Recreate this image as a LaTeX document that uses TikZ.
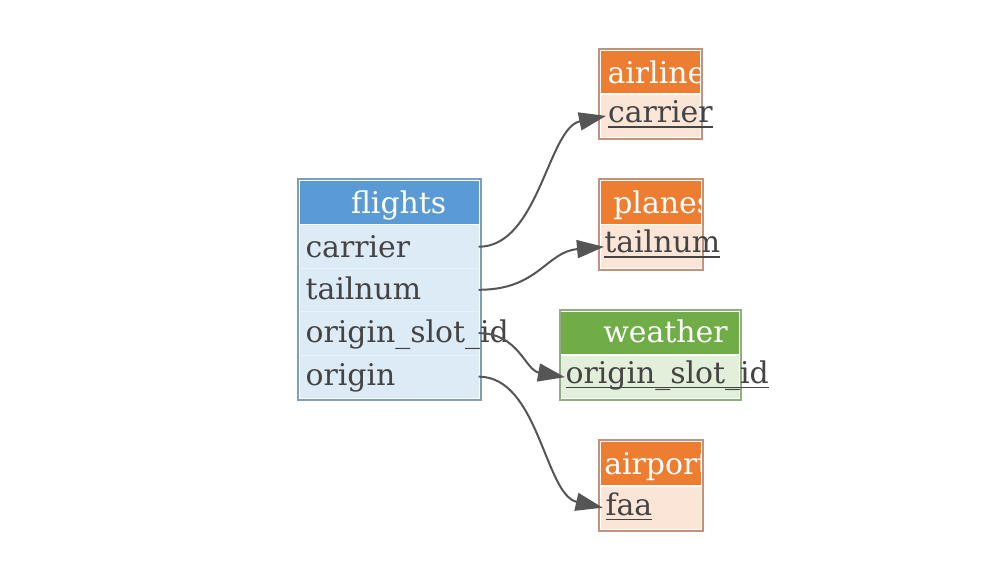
\documentclass[tikz,border=0pt]{standalone}
\usepackage{fontspec}
\setmainfont{DejaVu Serif}
\usetikzlibrary{arrows.meta,fit}
\definecolor{bhead}{HTML}{5B9BD5}
\definecolor{brow}{HTML}{DDEBF7}
\definecolor{bsep}{HTML}{EBF3FB}
\definecolor{bbord}{HTML}{7F9DBD}
\definecolor{ohead}{HTML}{ED7D31}
\definecolor{orow}{HTML}{FBE5D6}
\definecolor{obord}{HTML}{C4917A}
\definecolor{ghead}{HTML}{70AD47}
\definecolor{grow}{HTML}{E2EFDA}
\definecolor{gbord}{HTML}{8FAE82}
\definecolor{txt}{HTML}{444444}
\definecolor{arr}{HTML}{555555}
\tikzset{
  tbord/.style={line width=1pt, fill=white},
  cellbox/.style={inner sep=0pt, outer sep=0pt, draw=none},
  rowsep/.style={draw=bsep, line width=0.5pt},
  fieldtext/.style={inner sep=0pt, outer sep=0pt, text=txt, font=\fontsize{14.95pt}{17pt}\selectfont},
  titletext/.style={inner sep=0pt, outer sep=0pt, text=white, font=\fontsize{14.95pt}{17pt}\selectfont},
  ul/.style={draw=txt, line width=0.75pt},
  fk/.style={draw=arr, line width=1pt, -{Triangle[length=13.5pt,width=9pt]}},
}
\begin{document}
\begin{tikzpicture}[x=0.5pt,y=-0.5pt]
\path[use as bounding box, fill=white] (0,0) rectangle (1000,580);

% ---------- flights ----------
\draw[tbord, draw=bbord] (298.3,179.3) rectangle (480.5,400.3);
\node[cellbox, fill=bhead, fit={(300.3,181) (478.7,224.3)}] (fl-head) {};
\node[cellbox, fill=brow, fit={(300.3,225.2) (478.7,268.3)}] (fl-carrier) {};
\node[cellbox, fill=brow, fit={(300.3,268.3) (478.7,311.3)}] (fl-tailnum) {};
\node[cellbox, fill=brow, fit={(300.3,311.3) (478.7,355)}] (fl-slot) {};
\node[cellbox, fill=brow, fit={(300.3,355) (478.7,398.3)}] (fl-origin) {};
\draw[rowsep] (fl-carrier.south west) -- (fl-carrier.south east);
\draw[rowsep] (fl-tailnum.south west) -- (fl-tailnum.south east);
\draw[rowsep] (fl-slot.south west) -- (fl-slot.south east);
\node[titletext, anchor=base west] (fl-title) at (351,213) {flights};
\node[fieldtext, anchor=base west] (fl-carrier-t) at (305.5,257.3) {carrier};
\node[fieldtext, anchor=base west] (fl-tailnum-t) at (305.5,299.8) {tailnum};
\node[fieldtext, anchor=base west] (fl-slot-t) at (305.5,342.5) {origin\_slot\_id};
\node[fieldtext, anchor=base west] (fl-origin-t) at (305.5,385.3) {origin};

% ---------- airlines ----------
\draw[tbord, draw=obord] (599.2,48.8) rectangle (701.8,139);
\node[cellbox, fill=ohead, fit={(601,51) (699.8,93.3)}] (al-head) {};
\node[cellbox, fill=orow, fit={(601,95) (699.8,136.8)}] (al-carrier) {};
\begin{scope}
\clip (601,51) rectangle (699.8,93.3);
\node[titletext, anchor=base west] (al-title) at (607.5,83.3) {airlines};
\end{scope}
\node[fieldtext, anchor=base west] (al-carrier-t) at (608,122.8) {carrier};
\draw[ul] ([yshift=-2.2pt]al-carrier-t.base west) -- ([yshift=-2.2pt]al-carrier-t.base east);

% ---------- planes ----------
\draw[tbord, draw=obord] (599.2,179.2) rectangle (702.5,270.2);
\node[cellbox, fill=ohead, fit={(601,181) (701,223.5)}] (pl-head) {};
\node[cellbox, fill=orow, fit={(601,225.3) (701,268.3)}] (pl-tailnum) {};
\begin{scope}
\clip (601,181) rectangle (701,223.5);
\node[titletext, anchor=base west] (pl-title) at (613.3,213.3) {planes};
\end{scope}
\node[fieldtext, anchor=base west] (pl-tailnum-t) at (604.3,252.5) {tailnum};
\draw[ul] ([yshift=-2.2pt]pl-tailnum-t.base west) -- ([yshift=-2.2pt]pl-tailnum-t.base east);

% ---------- weather ----------
\draw[tbord, draw=gbord] (559.5,309.5) rectangle (741.2,400.2);
\node[cellbox, fill=ghead, fit={(561,311.7) (739.3,354.3)}] (we-head) {};
\node[cellbox, fill=grow, fit={(561,356) (739.3,398.3)}] (we-slot) {};
\node[titletext, anchor=base west] (we-title) at (603.3,342.7) {weather};
\node[fieldtext, anchor=base west] (we-slot-t) at (565.5,383.3) {origin\_slot\_id};
\draw[ul] ([yshift=-2.2pt]we-slot-t.base west) -- ([yshift=-2.2pt]we-slot-t.base east);

% ---------- airports ----------
\draw[tbord, draw=obord] (598.5,440.3) rectangle (702.8,530.5);
\node[cellbox, fill=ohead, fit={(600.7,442.3) (700.7,485)}] (ap-head) {};
\node[cellbox, fill=orow, fit={(600.7,486.7) (700.7,528.7)}] (ap-faa) {};
\begin{scope}
\clip (600.7,442.3) rectangle (700.7,485);
\node[titletext, anchor=base west] (ap-title) at (604.3,474) {airports};
\end{scope}
\node[fieldtext, anchor=base west] (ap-faa-t) at (605.5,515) {faa};
\draw[ul] ([yshift=-2.2pt]ap-faa-t.base west) -- ([yshift=-2.2pt]ap-faa-t.base east);

% ---------- connectors ----------
\draw[fk] (fl-carrier.east) .. controls +(60,0) and +(-58,12) .. ([xshift=2.5pt]al-carrier.west);
\draw[fk] (fl-tailnum.east) .. controls +(60,0) and +(-58,5) .. ([xshift=1.5pt]pl-tailnum.west);
\draw[fk] (fl-slot.east) .. controls +(40,0) and +(-40,-7) .. ([xshift=2pt]we-slot.west);
\draw[fk] (fl-origin.east) .. controls +(60,0) and +(-58,-13) .. ([xshift=1pt]ap-faa.west);
\end{tikzpicture}
\end{document}
